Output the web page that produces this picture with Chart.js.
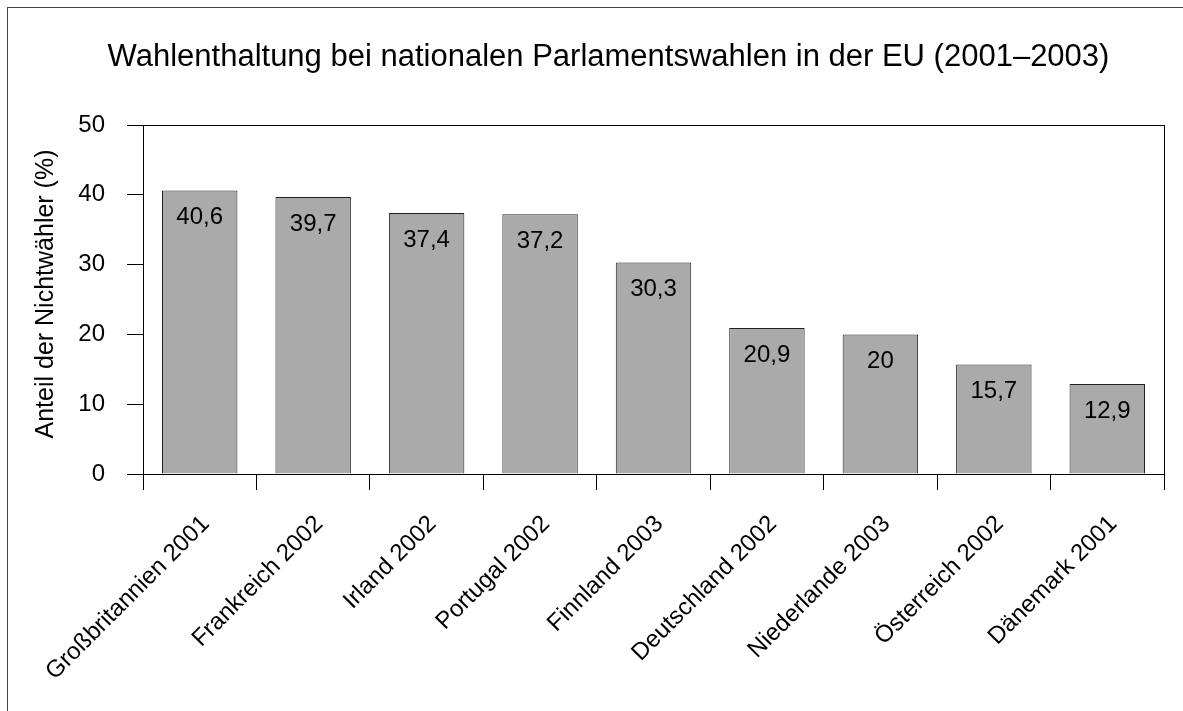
<!DOCTYPE html>
<html>
<head>
<meta charset="utf-8">
<script src="https://cdn.jsdelivr.net/npm/chart.js@4/dist/chart.umd.min.js"></script>
<style>
  html, body { margin: 0; padding: 0; background: #fff; overflow: hidden; }
  #wrap { position: relative; width: 1183px; height: 711px; }
  #frame { position: absolute; left: 7px; top: 7px; width: 3000px; height: 3000px;
           border-left: 1px solid #444; border-top: 1px solid #444; pointer-events: none; }
  canvas { position: absolute; left: 0; top: 0; }
</style>
</head>
<body>
<div id="wrap">
  <canvas id="c" width="1183" height="711"></canvas>
  <div id="frame"></div>
</div>
<script>
const titleText = 'Wahlenthaltung bei nationalen Parlamentswahlen in der EU (2001–2003)';
const yAxisTitle = 'Anteil der Nichtwähler (%)';
const categories = ['Großbritannien 2001', 'Frankreich 2002', 'Irland 2002', 'Portugal 2002',
  'Finnland 2003', 'Deutschland 2002', 'Niederlande 2003', 'Österreich 2002', 'Dänemark 2001'];
const values = [40.6, 39.7, 37.4, 37.2, 30.3, 20.9, 20, 15.7, 12.9];
const yTicks = [0, 10, 20, 30, 40, 50];

const FONT = '"Liberation Sans", Arial, Helvetica, sans-serif';

const frameAndLabels = {
  id: 'frameAndLabels',
  afterDatasetsDraw(chart) {
    const ctx = chart.ctx;
    const meta = chart.getDatasetMeta(0);
    ctx.save();
    ctx.font = '24px ' + FONT;
    ctx.fillStyle = '#000';
    ctx.textAlign = 'center';
    ctx.textBaseline = 'middle';
    meta.data.forEach((bar, i) => {
      const txt = String(values[i]).replace('.', ',');
      ctx.fillText(txt, bar.x, bar.y + 27);
    });
    ctx.restore();
  },
  afterDraw(chart) {
    const a = chart.chartArea;
    const ctx = chart.ctx;
    ctx.save();
    ctx.strokeStyle = '#000';
    ctx.lineWidth = 1;
    ctx.strokeRect(Math.round(a.left) + 0.5, Math.round(a.top) + 0.5,
                   Math.round(a.right - a.left), Math.round(a.bottom - a.top));
    // chart title
    ctx.fillStyle = '#000';
    ctx.font = '31px ' + FONT;
    ctx.textAlign = 'center';
    ctx.textBaseline = 'alphabetic';
    ctx.fillText(titleText, 608.5, 66);
    // y axis title
    ctx.font = '25px ' + FONT;
    ctx.translate(46, 294);
    ctx.rotate(-Math.PI / 2);
    ctx.textBaseline = 'middle';
    ctx.fillText(yAxisTitle, 0, 0);
    ctx.restore();
  }
};

new Chart(document.getElementById('c'), {
  type: 'bar',
  data: {
    labels: categories,
    datasets: [{
      data: values,
      backgroundColor: '#aaaaaa',
      borderColor: '#222',
      borderWidth: 1,
      categoryPercentage: 1,
      barPercentage: 0.665
    }]
  },
  options: {
    responsive: false,
    animation: false,
    devicePixelRatio: 1,
    layout: { padding: { top: 125, left: 0, right: 19, bottom: 0 } },
    plugins: {
      legend: { display: false },
      tooltip: { enabled: false },
      title: { display: false }
    },
    scales: {
      x: {
        afterFit(scale) { scale.height = 711 - 474; },
        grid: { display: true, drawOnChartArea: false, drawTicks: true, tickLength: 16, color: '#000', offset: true },
        border: { display: true, color: '#000' },
        ticks: {
          color: '#000', font: { family: FONT, size: 24 },
          minRotation: 45, maxRotation: 45, padding: 20, labelOffset: 6, autoSkip: false
        }
      },
      y: {
        min: 0, max: 50,
        afterFit(scale) { scale.width = 143; },
        afterBuildTicks(scale) { scale.ticks = yTicks.map(v => ({ value: v })); },
        grid: { display: true, drawOnChartArea: false, drawTicks: true, tickLength: 16, color: '#000' },
        border: { display: true, color: '#000' },
        ticks: { color: '#000', font: { family: FONT, size: 24 }, padding: 22 }
      }
    }
  },
  plugins: [frameAndLabels]
});
</script>
</body>
</html>
